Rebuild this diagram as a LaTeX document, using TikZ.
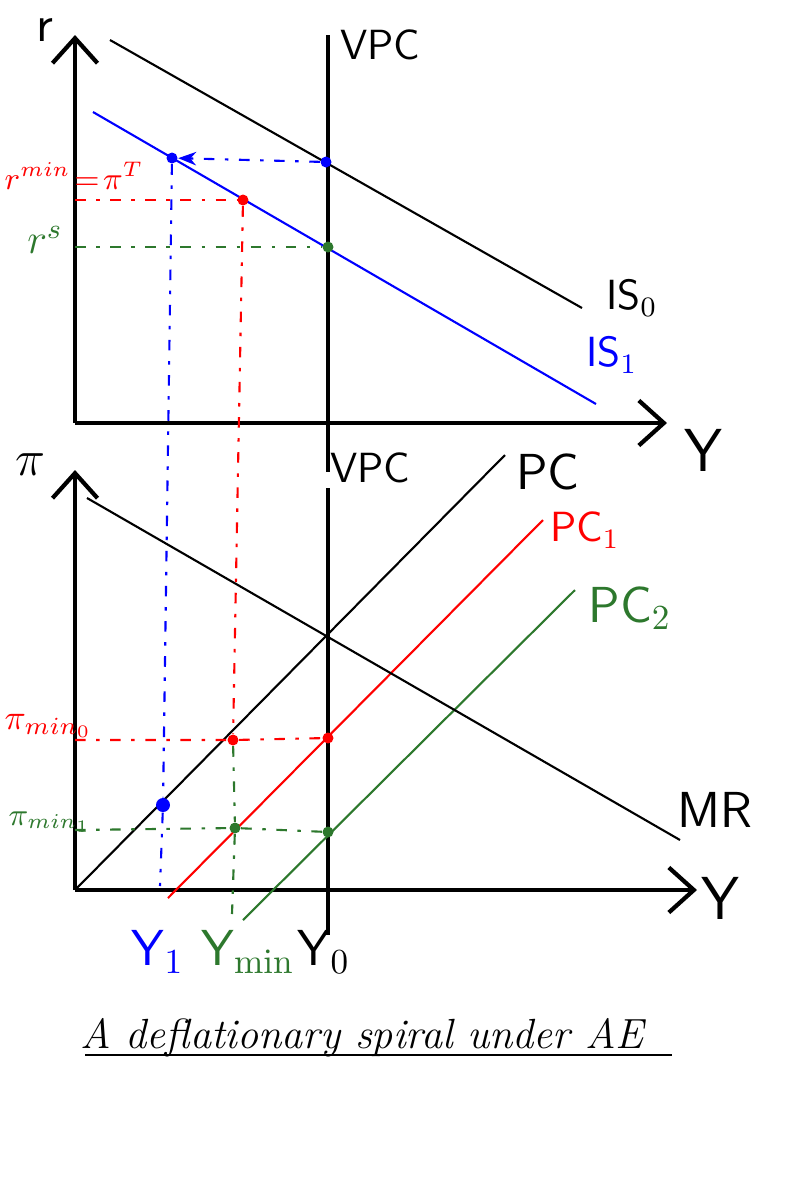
\documentclass[tikz,border=0pt]{standalone}
\usetikzlibrary{arrows.meta, positioning}
\definecolor{hgreen}{RGB}{45,120,45}

\begin{document}
\begin{tikzpicture}[
        ax/.style  = {-{Straight Barb[length=2.5mm, width=4.5mm]}, line width=1.2pt},
        crv/.style = {line width=0.6pt},
        vl/.style  = {line width=1.2pt},
        dot/.style = {circle, fill, inner sep=0pt, minimum size=1.1mm},
        gd/.style  = {dash pattern=on 3pt off 3pt on 1pt off 3pt, semithick},
        ar/.style  = {-{Stealth[length=1.8mm]}, gd},
        lbl/.style = {font=\large\sffamily},
        big/.style = {font=\LARGE\sffamily}
    ]
        \useasboundingbox (0,0) rectangle (8,-12);

        % upper panel: IS curves
        \coordinate (O1)    at (0.75,-4.23);
        \coordinate (rtop)  at (0.75,-0.35);
        \coordinate (Yend1) at (6.67,-4.23);
        \coordinate (vpcA)  at (3.28,-0.35);
        \coordinate (vpcB)  at (3.28,-4.72);
        \coordinate (is0a)  at (1.10,-0.40);
        \coordinate (is0b)  at (5.82,-3.08);
        \coordinate (is1a)  at (0.93,-1.12);
        \coordinate (is1b)  at (5.96,-4.04);
        \coordinate (rmin)  at (0.75,-2.00);
        \coordinate (rs)    at (0.75,-2.47);

        \draw[ax] (O1) -- (rtop);
        \draw[ax] (O1) -- (Yend1);
        \draw[vl] (vpcA) -- (vpcB);
        \draw[crv] (is0a) -- (is0b);
        \draw[crv, blue] (is1a) -- (is1b);

        \node[dot, blue]   (dA) at (3.26,-1.62) {};
        \node[dot, blue]   (dB) at (1.72,-1.58) {};
        \node[dot, red]    (dC) at (2.43,-2.00) {};
        \node[dot, hgreen] (dD) at (3.28,-2.47) {};

        \node[lbl, font=\Large\sffamily] (r) at (0.45,-0.30) {r};
        \node[lbl] (vpc1) at (3.80,-0.45) {VPC};
        \node[lbl] (is0) at (6.32,-2.98) {IS$_0$};
        \node[lbl, blue] (is1) at (6.12,-3.55) {IS$_1$};
        \node[big] (Y1) at (7.03,-4.50) {Y};
        \node[red, anchor=west, inner sep=0pt, font=\small] (rminl) at (0.04,-1.76) {$r^{min}\!=\!\pi^T$};
        \node[hgreen, font=\large] (rsl) at (0.45,-2.40) {$r^s$};

        % lower panel: Phillips curves
        \coordinate (O2)    at (0.75,-8.90);
        \coordinate (pitop) at (0.75,-4.70);
        \coordinate (Yend2) at (6.97,-8.90);
        \coordinate (vpcC)  at (3.28,-4.88);
        \coordinate (vpcD)  at (3.28,-9.35);
        \coordinate (pca)   at (0.75,-8.90);
        \coordinate (pcb)   at (5.05,-4.55);
        \coordinate (pc1a)  at (1.68,-8.98);
        \coordinate (pc1b)  at (5.43,-5.20);
        \coordinate (pc2a)  at (2.43,-9.20);
        \coordinate (pc2b)  at (5.75,-5.90);
        \coordinate (mra)   at (0.87,-4.98);
        \coordinate (mrb)   at (6.80,-8.40);
        \coordinate (pimin0) at (0.75,-7.40);
        \coordinate (pimin1) at (0.75,-8.30);
        \coordinate (y1ax)  at (1.60,-8.86);
        \coordinate (yminax) at (2.32,-9.14);

        \draw[ax] (O2) -- (pitop);
        \draw[ax] (O2) -- (Yend2);
        \draw[vl] (vpcC) -- (vpcD);
        \draw[crv] (pca) -- (pcb);
        \draw[crv, red] (pc1a) -- (pc1b);
        \draw[crv, hgreen] (pc2a) -- (pc2b);
        \draw[crv] (mra) -- (mrb);

        \node[dot, red]    (dE) at (2.33,-7.40) {};
        \node[dot, red]    (dF) at (3.28,-7.38) {};
        \node[dot, hgreen] (dG) at (2.35,-8.28) {};
        \node[dot, hgreen] (dH) at (3.28,-8.32) {};
        \node[dot, blue, minimum size=1.4mm] (dI) at (1.63,-8.05) {};

        \node[lbl] (vpc2) at (3.70,-4.68) {VPC};
        \node[lbl, font=\Large\sffamily] (pi) at (0.30,-4.65) {$\pi$};
        \node[lbl, font=\Large\sffamily] (pc) at (5.48,-4.72) {PC};
        \node[lbl, red] (pc1) at (5.85,-5.30) {PC$_1$};
        \node[lbl, font=\Large\sffamily, hgreen] (pc2) at (6.30,-6.08) {PC$_2$};
        \node[lbl, font=\Large\sffamily] (mr) at (7.15,-8.10) {MR};
        \node[big] (Y2) at (7.20,-8.98) {Y};
        \node[red, anchor=west, inner sep=0pt] (pim0) at (0.04,-7.26) {$\pi_{min_0}$};
        \node[hgreen, anchor=west, inner sep=0pt, font=\small] (pim1) at (0.08,-8.22) {$\pi_{min_1}$};
        \node[blue, font=\Large\sffamily] (y1) at (1.58,-9.52) {Y$_1$};
        \node[hgreen, font=\Large\sffamily] (ymin) at (2.48,-9.52) {Y$_{\mathrm{min}}$};
        \node[font=\Large\sffamily] (y0) at (3.24,-9.52) {Y$_0$};

        % projections
        \draw[ar, blue] (dA) -- (dB);
        \draw[gd, blue] (dB) -- (dI) -- (y1ax);
        \draw[gd, red] (rmin) -- (dC);
        \draw[gd, red] (dC) -- (dE);
        \draw[gd, hgreen] (rs) -- (dD);
        \draw[gd, red] (pimin0) -- (dE) -- (dF);
        \draw[gd, hgreen] (pimin1) -- (dG) -- (dH);
        \draw[gd, hgreen] (dE) -- (dG) -- (yminax);

        \node[font=\large\itshape] (title) at (3.62,-10.38) {A deflationary spiral under AE};
        \draw[crv] (0.85,-10.55) -- (6.72,-10.55);
    \end{tikzpicture}
\end{document}
